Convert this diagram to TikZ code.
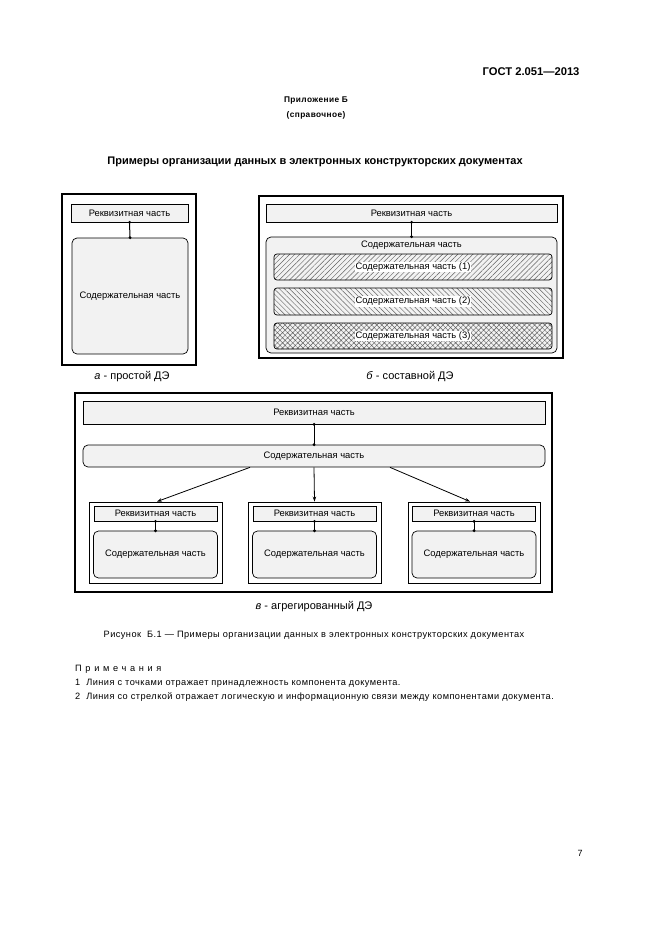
\documentclass[tikz,border=0pt]{standalone}
\usepackage{fontspec}
\setmainfont{Liberation Sans}
\newfontfamily\spacedfont[LetterSpace=5]{Liberation Sans}
\newfontfamily\widefont[LetterSpace=40]{Liberation Sans}
\usetikzlibrary{arrows.meta,patterns.meta,positioning}

\tikzset{
  boxfont/.style={font=\fontsize{9.4}{11}\selectfont},
  frame/.style={draw,line width=1.1pt,inner sep=0pt},
  rekv/.style={draw,fill=gray!10,line width=0.7pt,inner sep=0pt,boxfont},
  sod/.style={draw,fill=gray!10,line width=0.7pt,rounded corners=5pt,inner sep=0pt,boxfont},
  part/.style={draw,line width=0.7pt,rounded corners=3pt,inner sep=0pt,pattern color=gray!75!black},
  partlabel/.style={fill=white,inner sep=1pt,boxfont},
  link/.style={line width=1pt},
  arr/.style={-{Stealth[length=5pt,width=3.5pt]},line width=0.8pt},
  caption/.style={font=\fontsize{11}{13}\selectfont}
}

\begin{document}
\begin{tikzpicture}[x=1pt,y=-1pt]
    \useasboundingbox (0,0) rectangle (661,936);

    % Шапка
    \node[anchor=east,font=\fontsize{11.2}{13}\selectfont\bfseries] (gost) at (583,72) {ГОСТ 2.051—2013};
    \node[font=\fontsize{8.3}{10}\spacedfont\bfseries] (pril) at (316,101) {Приложение Б};
    \node[font=\fontsize{8.3}{10}\spacedfont\bfseries] (sprav) at (316,115) {(справочное)};
    \node[font=\fontsize{11}{13}\selectfont\bfseries] (title) at (315,162) {Примеры организации данных в электронных конструкторских документах};

    % а - простой ДЭ
    \node[frame,minimum width=134pt,minimum height=171pt] (a) at (129,279.5) {};
    \node[rekv,minimum width=117pt,minimum height=18pt] (ar) at (129.5,213) {Реквизитная часть};
    \node[sod,minimum width=116pt,minimum height=116pt] (as) at (130,296) {Содержательная часть};
    \draw[link] (ar.south) -- (as.north);
    \fill (ar.south) circle (1.6pt) (as.north) circle (1.6pt);
    \node[caption] (acap) at (132,377) {\textit{а} - простой ДЭ};

    % б - составной ДЭ
    \node[frame,minimum width=304pt,minimum height=162pt] (b) at (411,277) {};
    \node[rekv,minimum width=291pt,minimum height=18pt] (br) at (411.5,213) {Реквизитная часть};
    \node[sod,minimum width=291pt,minimum height=116pt,
          label={[boxfont,anchor=north,yshift=-1pt]north:Содержательная часть}] (bs) at (411.5,295) {};
    \draw[link] (br.south) -- (bs.north);
    \fill (br.south) circle (1.6pt) (bs.north) circle (1.6pt);
    \node[part,pattern={Lines[angle=45,distance=3.6pt,line width=0.45pt]},minimum width=278pt,minimum height=26pt,
          label={[partlabel]center:Содержательная часть (1)}] (b1) at (413,267) {};
    \node[part,pattern={Lines[angle=-45,distance=3.6pt,line width=0.45pt]},minimum width=278pt,minimum height=27pt,
          label={[partlabel]center:Содержательная часть (2)}] (b2) at (413,301.5) {};
    \node[part,pattern={Hatch[angle=45,distance=3.6pt,line width=0.45pt]},minimum width=278pt,minimum height=26pt,
          label={[partlabel]center:Содержательная часть (3)}] (b3) at (413,336) {};
    \node[caption] (bcap) at (410,377) {\textit{б} - составной ДЭ};

    % в - агрегированный ДЭ
    \node[frame,minimum width=477pt,minimum height=199pt] (c) at (313.5,492.5) {};
    \node[rekv,minimum width=462pt,minimum height=23pt] (cr) at (314,412.5) {Реквизитная часть};
    \node[sod,minimum width=462pt,minimum height=22pt] (cs) at (314,456) {Содержательная часть};
    \draw[link] (cr.south) -- (cs.north);
    \fill (cr.south) circle (1.6pt) (cs.north) circle (1.6pt);

    % Компонент 1
    \node[frame,line width=0.9pt,minimum width=133pt,minimum height=81pt] (c1) at (155.5,542.5) {};
    \node[rekv,minimum width=123pt,minimum height=15pt] (c1r) at (155.5,513.5) {Реквизитная часть};
    \node[sod,minimum width=124pt,minimum height=47pt] (c1s) at (155.5,554.5) {Содержательная часть};
    \draw[link] (c1r.south) -- (c1s.north);
    \fill (c1r.south) circle (1.6pt) (c1s.north) circle (1.6pt);

    % Компонент 2
    \node[frame,line width=0.9pt,minimum width=133pt,minimum height=81pt] (c2) at (314.5,542.5) {};
    \node[rekv,minimum width=123pt,minimum height=15pt] (c2r) at (314.5,513.5) {Реквизитная часть};
    \node[sod,minimum width=124pt,minimum height=47pt] (c2s) at (314.5,554.5) {Содержательная часть};
    \draw[link] (c2r.south) -- (c2s.north);
    \fill (c2r.south) circle (1.6pt) (c2s.north) circle (1.6pt);

    % Компонент 3
    \node[frame,line width=0.9pt,minimum width=132pt,minimum height=81pt] (c3) at (474,542.5) {};
    \node[rekv,minimum width=123pt,minimum height=15pt] (c3r) at (474,513.5) {Реквизитная часть};
    \node[sod,minimum width=124pt,minimum height=47pt] (c3s) at (474,554.5) {Содержательная часть};
    \draw[link] (c3r.south) -- (c3s.north);
    \fill (c3r.south) circle (1.6pt) (c3s.north) circle (1.6pt);

    % Связи
    \draw[arr] ([xshift=-64pt]cs.south) -- ([xshift=1.5pt]c1.north);
    \draw[arr] (cs.south) -- (c2.north);
    \draw[arr] ([xshift=76pt]cs.south) -- ([xshift=-4pt]c3.north);
    \node[caption] (ccap) at (314,607) {\textit{в} - агрегированный ДЭ};

    % Подпись рисунка
    \node[font=\fontsize{9.2}{11}\spacedfont] (fig) at (314,635) {Рисунок\ \ Б.1 — Примеры организации данных в электронных конструкторских документах};

    % Примечания
    \node[anchor=west,inner sep=0pt,font=\fontsize{9.2}{11}\widefont] (notes) at (75,669) {Примечания};
    \node[anchor=west,inner sep=0pt,font=\fontsize{9.2}{11}\spacedfont] (note1) at (75,683) {1\ \ Линия с точками отражает принадлежность компонента документа.};
    \node[anchor=west,inner sep=0pt,font=\fontsize{9.2}{11}\spacedfont] (note2) at (75,697) {2\ \ Линия со стрелкой отражает логическую и информационную связи между компонентами документа.};

    % Номер страницы
    \node[font=\fontsize{9}{11}\selectfont] (page) at (580,853) {7};
\end{tikzpicture}
\end{document}
